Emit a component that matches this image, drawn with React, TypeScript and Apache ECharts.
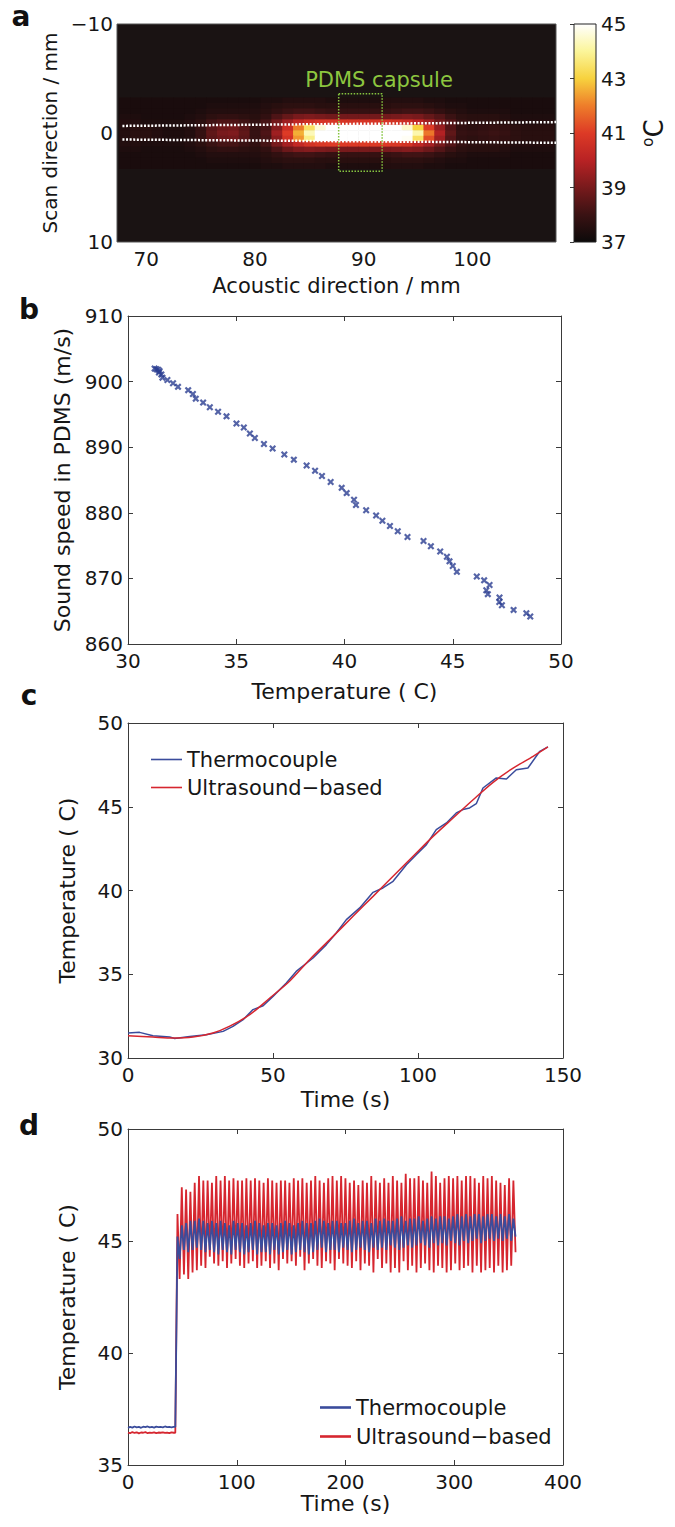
import React, { useEffect, useRef } from 'react';
import * as echarts from 'echarts';

const FONT = 'DejaVu Sans';
const INK = '#161616';
const AXIS = '#3a3a3a';
const BLUE = '#3a4c9c';
const RED = '#d6262f';
const GREEN = '#86c440';

// ---------- panel a : temperature map ----------
const aXTicks = [70, 80, 90, 100];
const heatX = [68, 69, 70, 71, 72, 73, 74, 75, 76, 77, 78, 79, 80, 81, 82, 83, 84, 85, 86, 87,
  88, 89, 90, 91, 92, 93, 94, 95, 96, 97, 98, 99, 100, 101, 102, 103, 104, 105, 106, 107];
const heatY = [-3, -2.5, -2, -1.5, -1, -0.5, 0, 0.5, 1, 1.5, 2, 2.5, 3];
const heatRowM30 = [37.3,37.3,37.3,37.3,37.3,37.3,37.3,37.3,37.3,37.3,37.3,37.3,37.3,37.4,37.4,37.5,37.5,37.5,37.5,37.4,37.4,37.4,37.4,37.4,37.5,37.5,37.5,37.5,37.4,37.4,37.3,37.3,37.3,37.3,37.3,37.3,37.3,37.3,37.3,37.3];
const heatRowM25 = [37.3,37.3,37.3,37.3,37.3,37.3,37.3,37.3,37.4,37.4,37.4,37.4,37.4,37.5,37.6,37.7,37.7,37.7,37.6,37.6,37.6,37.6,37.6,37.6,37.6,37.7,37.7,37.7,37.6,37.5,37.4,37.4,37.3,37.3,37.3,37.3,37.3,37.3,37.3,37.3];
const heatRowM20 = [37.3,37.3,37.3,37.3,37.3,37.3,37.3,37.4,37.5,37.5,37.5,37.5,37.5,37.6,37.8,38.0,38.1,38.1,38.0,37.9,37.9,37.9,37.9,37.9,37.9,38.0,38.1,38.1,38.0,37.8,37.6,37.5,37.4,37.4,37.4,37.4,37.3,37.3,37.3,37.3];
const heatRowM15 = [37.4,37.4,37.3,37.3,37.3,37.3,37.4,37.5,37.7,37.8,37.8,37.7,37.6,37.8,38.3,38.7,39.0,39.1,39.0,38.9,38.9,38.9,38.9,38.9,38.9,39.0,39.1,39.0,38.7,38.4,38.0,37.7,37.6,37.6,37.6,37.5,37.4,37.4,37.4,37.4];
const heatRowM10 = [37.5,37.5,37.4,37.4,37.4,37.4,37.5,37.7,38.1,38.3,38.3,38.1,37.8,38.2,38.9,39.6,40.2,40.6,40.8,40.8,40.8,40.8,40.8,40.8,40.8,40.7,40.5,40.1,39.6,38.9,38.4,37.9,37.7,37.7,37.7,37.6,37.5,37.5,37.5,37.5];
const heatRowM05 = [37.5,37.6,37.6,37.5,37.4,37.4,37.5,37.9,38.5,38.8,38.9,38.5,37.9,38.2,39.2,40.5,42.0,43.4,44.6,45.4,45.8,46.0,46.0,46.0,45.8,45.4,44.5,43.0,41.0,39.5,38.4,37.8,37.7,37.8,37.9,37.8,37.7,37.6,37.6,37.6];
const heatRow00 = [37.5,37.6,37.6,37.5,37.4,37.4,37.5,37.9,38.6,39.0,39.1,38.6,37.9,38.3,39.6,41.0,42.6,44.3,46.0,47.2,47.8,48.0,48.0,48.0,47.8,47.3,46.2,44.2,41.9,39.9,38.6,37.9,37.8,37.9,38.0,37.9,37.7,37.6,37.6,37.6];
const heatRowP05 = [37.5,37.6,37.6,37.5,37.4,37.4,37.5,37.9,38.5,38.8,38.9,38.5,37.9,38.2,39.3,40.7,42.3,43.8,45.0,45.8,46.2,46.4,46.4,46.4,46.2,45.8,44.9,43.4,41.3,39.6,38.4,37.8,37.7,37.8,37.9,37.8,37.7,37.6,37.6,37.6];
const heatRowP10 = [37.5,37.5,37.4,37.4,37.4,37.4,37.5,37.7,38.0,38.2,38.2,38.0,37.8,38.2,39.0,39.7,40.3,40.7,40.9,41.0,41.0,41.0,41.0,41.0,41.0,40.9,40.7,40.2,39.7,39.0,38.4,37.9,37.7,37.7,37.7,37.6,37.5,37.5,37.5,37.5];
const heatRowP15 = [37.4,37.4,37.3,37.3,37.3,37.3,37.4,37.5,37.7,37.8,37.8,37.7,37.6,37.8,38.3,38.8,39.1,39.2,39.1,39.0,39.0,39.0,39.0,39.0,39.0,39.1,39.2,39.1,38.8,38.4,38.0,37.7,37.6,37.6,37.6,37.5,37.4,37.4,37.4,37.4];
const heatRowP20 = [37.3,37.3,37.3,37.3,37.3,37.3,37.3,37.4,37.5,37.5,37.5,37.5,37.5,37.6,37.8,38.0,38.1,38.1,38.0,37.9,37.9,37.9,37.9,37.9,37.9,38.0,38.1,38.1,38.0,37.8,37.6,37.5,37.4,37.4,37.4,37.4,37.3,37.3,37.3,37.3];
const heatRowP25 = [37.3,37.3,37.3,37.3,37.3,37.3,37.3,37.3,37.4,37.4,37.4,37.4,37.4,37.5,37.6,37.7,37.7,37.7,37.6,37.6,37.6,37.6,37.6,37.6,37.6,37.7,37.7,37.7,37.6,37.5,37.4,37.4,37.3,37.3,37.3,37.3,37.3,37.3,37.3,37.3];
const heatRowP30 = [37.3,37.3,37.3,37.3,37.3,37.3,37.3,37.3,37.3,37.3,37.3,37.3,37.3,37.4,37.4,37.5,37.5,37.5,37.5,37.4,37.4,37.4,37.4,37.4,37.5,37.5,37.5,37.5,37.4,37.4,37.3,37.3,37.3,37.3,37.3,37.3,37.3,37.3,37.3,37.3];
const heatRows = [heatRowM30, heatRowM25, heatRowM20, heatRowM15, heatRowM10, heatRowM05, heatRow00,
  heatRowP05, heatRowP10, heatRowP15, heatRowP20, heatRowP25, heatRowP30];
const hotColors = ['#0c0a0a', '#3a1213', '#781a1c', '#b82224', '#dd3a26', '#ee7d2a', '#f7d23e', '#fbf59a', '#ffffff'];
const cbTicks = [37, 39, 41, 43, 45];
const aLineUpper = [[67.8, -0.65], [107.7, -1.0]];
const aLineLower = [[67.8, 0.6], [107.7, 0.9]];
const capsuleBox = [[87.7, -3.6], [91.7, -3.6], [91.7, 3.5], [87.7, 3.5], [87.7, -3.6]];

// ---------- panel b : sound speed vs temperature ----------
const bTemp = [31.23,31.31,31.39,31.46,31.43,31.54,31.59,31.82,32.08,32.31,32.78,33.0,33.13,33.47,33.78,34.16,34.55,35.01,35.35,35.63,35.86,36.28,36.68,37.22,37.66,38.25,38.64,38.96,39.36,39.87,40.10,40.44,40.53,41.0,41.46,41.75,42.1,42.46,42.91,43.65,43.99,44.42,44.73,44.85,45.0,45.19,46.11,46.45,46.70,46.55,46.62,47.16,47.15,47.27,47.81,48.4,48.58];
const bSpeed = [901.98,901.9,901.8,901.6,901.4,901.1,900.6,900.25,899.75,899.2,898.7,898.1,897.4,896.8,896.1,895.4,894.7,893.6,893.0,892.1,891.4,890.5,889.8,888.9,888.1,887.2,886.4,885.6,884.7,883.8,883.0,882.0,881.2,880.4,879.6,878.8,878.0,877.2,876.3,875.7,874.9,874.1,873.3,872.6,871.9,871.0,870.3,869.7,869.0,868.2,867.6,867.1,866.4,865.9,865.2,864.7,864.2];

// ---------- panel c : heating ramp ----------
const cBlueTime = [0,4,8.6,14.4,16.1,21.3,27,32.8,36.2,39.7,43.1,46.6,50,54.6,58,63.8,68.4,71.8,75.3,79.9,84.5,87.9,91.4,96,99.4,102.9,106.3,109.8,113.2,115.5,117.8,120.1,122.4,127,130.5,133.9,137.9,142,144.8];
const cBlueTemp = [31.49,31.53,31.33,31.25,31.17,31.29,31.39,31.59,31.89,32.29,32.89,33.12,33.68,34.48,35.17,35.97,36.77,37.46,38.26,38.96,39.89,40.15,40.55,41.54,42.14,42.74,43.63,44.03,44.63,44.83,44.93,45.18,46.12,46.72,46.66,47.21,47.31,48.31,48.57];
const cRedTime = [0,8.6,15.5,22.4,29.3,35.1,42,48.9,55.7,62.6,70.7,77.6,84.5,91.4,98.3,105.2,112.1,119,125.9,132.8,139.7,144.8];
const cRedTemp = [31.33,31.25,31.19,31.25,31.49,31.9,32.59,33.58,34.58,35.87,37.26,38.46,39.65,40.85,42.04,43.23,44.33,45.42,46.46,47.31,48.01,48.57];

// ---------- panel d : pulsed heating ----------
const dPreTime = [0,2,4,6,8,10,12,14,16,18,20,22,24,26,28,30,32,34,36,38,40,42];
const dBluePre = [36.66,36.7,36.67,36.72,36.68,36.7,36.66,36.71,36.69,36.72,36.68,36.7,36.67,36.71,36.69,36.7,36.68,36.72,36.69,36.7,36.68,36.7];
const dRedPre = [36.45,36.42,36.47,36.43,36.46,36.41,36.45,36.44,36.47,36.42,36.45,36.43,36.46,36.42,36.45,36.44,36.46,36.43,36.45,36.42,36.46,36.44];
const D_STEP_TIME = 43.5;
const D_OSC_START = 45.5;
const D_HALF_PERIOD = 1.98;
const dRedPeaks = [46.2,47.4,47.3,47.2,47.6,47.9,47.7,47.7,47.6,47.9,47.7,47.9,47.7,47.8,47.7,47.7,47.8,47.7,47.8,47.7,47.6,47.8,47.7,47.6,47.7,47.7,47.6,47.8,47.7,47.8,47.6,47.7,47.9,47.7,47.6,47.8,47.9,47.7,47.9,47.8,47.6,47.7,47.5,47.7,47.6,47.9,47.7,47.6,47.8,47.6,47.9,47.7,47.6,48.0,47.8,47.8,47.9,47.7,47.6,48.1,47.9,47.6,47.8,47.9,47.8,47.9,47.7,47.9,47.9,47.8,47.6,47.9,47.8,47.9,47.7,47.6,47.5,47.8,47.7];
const dRedTroughs = [43.3,43.5,43.3,43.6,43.7,43.9,43.8,44.3,44.0,43.9,44.1,43.8,44.0,44.2,43.9,43.8,44.0,44.1,43.8,43.9,44.1,43.8,44.0,43.7,44.2,44.0,44.1,43.9,44.3,43.7,44.0,44.2,43.9,43.8,44.1,44.0,43.7,44.2,44.0,43.9,43.8,44.1,43.7,44.0,43.9,43.6,44.2,43.8,44.0,43.6,43.8,43.6,44.1,43.7,43.9,43.6,43.8,44.0,43.7,43.6,43.9,43.8,43.6,43.7,44.0,43.7,43.8,43.9,43.6,43.9,43.6,43.7,43.8,43.6,43.9,43.6,43.7,43.9,44.5];
const dBluePeaks = [45.2,45.7,45.8,45.9,45.9,46.0,45.9,45.8,45.9,45.8,45.9,45.8,45.7,45.9,45.8,45.8,45.7,45.8,45.9,45.8,45.7,45.8,45.8,45.7,45.8,45.9,45.8,45.7,45.8,45.9,45.8,45.8,45.9,46.0,45.9,45.8,45.9,45.9,45.8,45.8,45.9,46.0,45.8,45.9,45.9,45.8,46.0,45.9,46.0,45.9,45.9,46.0,46.1,45.9,46.0,46.0,46.1,45.9,46.0,46.1,46.0,46.1,46.1,46.0,46.1,46.2,46.1,46.2,46.1,46.2,46.2,46.1,46.2,46.2,46.1,46.2,46.1,46.2,46.0];
const dBlueTroughs = [44.2,44.6,44.5,44.6,44.7,44.6,44.5,44.6,44.5,44.4,44.6,44.5,44.4,44.6,44.5,44.4,44.5,44.6,44.4,44.5,44.5,44.4,44.6,44.4,44.5,44.6,44.4,44.5,44.6,44.5,44.4,44.5,44.6,44.7,44.5,44.6,44.6,44.5,44.7,44.6,44.5,44.6,44.7,44.6,44.5,44.7,44.6,44.7,44.6,44.8,44.7,44.6,44.7,44.8,44.7,44.8,44.9,44.8,44.7,44.9,44.8,44.9,44.8,45.0,44.9,44.8,45.0,44.9,45.0,45.1,44.9,45.0,45.1,45.0,45.1,45.0,45.1,45.0,45.2];

const LEG_T = 'Thermocouple';
const LEG_U = 'Ultrasound\u2212based';

function buildD(pre: number[], peaks: number[], troughs: number[]) {
  const out: number[][] = dPreTime.map((t, i) => [t, pre[i]]);
  out.push([D_STEP_TIME, pre[pre.length - 1]]);
  const n = Math.min(peaks.length, troughs.length);
  for (let i = 0; i < n; i++) {
    out.push([D_OSC_START + 2 * i * D_HALF_PERIOD, peaks[i]]);
    out.push([D_OSC_START + (2 * i + 1) * D_HALF_PERIOD, troughs[i]]);
  }
  return out;
}

const heatData: number[][] = [];
heatY.forEach((y, r) => heatX.forEach((x, c) => heatData.push([x, y, heatRows[r][c]])));

const txt = (size: number) => ({ color: INK, fontFamily: FONT, fontSize: size });

function mainX(gridIndex: number, min: number, max: number, interval: number, name: string, nameGap: number) {
  return {
    gridIndex, type: 'value', min, max, interval, position: 'bottom',
    name, nameLocation: 'middle', nameGap, nameTextStyle: txt(22),
    axisLine: { show: true, onZero: false, lineStyle: { color: AXIS, width: 1 } },
    axisTick: { show: true, inside: true, length: 5, lineStyle: { color: AXIS } },
    axisLabel: { ...txt(20), margin: 7 },
    splitLine: { show: false },
  };
}
function mirrorX(gridIndex: number, min: number, max: number, interval: number) {
  return {
    gridIndex, type: 'value', min, max, interval, position: 'top',
    axisLine: { show: true, onZero: false, lineStyle: { color: AXIS, width: 1 } },
    axisTick: { show: true, inside: true, length: 5, lineStyle: { color: AXIS } },
    axisLabel: { show: false }, splitLine: { show: false },
  };
}
function mainY(gridIndex: number, min: number, max: number, interval: number, name: string, nameGap: number) {
  return {
    gridIndex, type: 'value', min, max, interval, position: 'left',
    name, nameLocation: 'middle', nameGap, nameTextStyle: txt(22),
    axisLine: { show: true, onZero: false, lineStyle: { color: AXIS, width: 1 } },
    axisTick: { show: true, inside: true, length: 5, lineStyle: { color: AXIS } },
    axisLabel: { ...txt(20), margin: 5 },
    splitLine: { show: false },
  };
}
function mirrorY(gridIndex: number, min: number, max: number, interval: number) {
  return {
    gridIndex, type: 'value', min, max, interval, position: 'right',
    axisLine: { show: true, onZero: false, lineStyle: { color: AXIS, width: 1 } },
    axisTick: { show: true, inside: true, length: 5, lineStyle: { color: AXIS } },
    axisLabel: { show: false }, splitLine: { show: false },
  };
}

function buildOption() {
  const n = hotColors.length - 1;
  const cbStops = hotColors.map((_, i) => ({ offset: i / n, color: hotColors[n - i] }));
  return {
    animation: false,
    backgroundColor: '#ffffff',
    grid: [
      { left: 117, top: 24, width: 439, height: 218, show: true, backgroundColor: '#1a1313', borderColor: '#555', borderWidth: 1 },
      { left: 574, top: 24, width: 22, height: 218 },
      { left: 128, top: 316, width: 433, height: 328 },
      { left: 128, top: 723, width: 435, height: 335 },
      { left: 128, top: 1129, width: 435, height: 336 },
    ],
    visualMap: [{
      show: false, type: 'continuous', seriesIndex: 0, dimension: 2, min: 37, max: 45,
      inRange: { color: hotColors },
    }],
    xAxis: [
      {
        gridIndex: 0, type: 'value', min: 67.3, max: 107.7, position: 'bottom',
        name: 'Acoustic direction / mm', nameLocation: 'middle', nameGap: 33, nameTextStyle: txt(21),
        axisLine: { show: false, onZero: false }, axisTick: { show: false },
        axisLabel: { ...txt(20), margin: 7, customValues: aXTicks }, splitLine: { show: false },
      },
      { gridIndex: 1, type: 'value', min: 0, max: 1, show: false },
      mainX(2, 30, 50, 5, 'Temperature ( C)', 36),
      mirrorX(2, 30, 50, 5),
      mainX(3, 0, 150, 50, 'Time (s)', 30),
      mirrorX(3, 0, 150, 50),
      mainX(4, 0, 400, 100, 'Time (s)', 27),
      mirrorX(4, 0, 400, 100),
    ],
    yAxis: [
      {
        gridIndex: 0, type: 'value', min: -10, max: 10, interval: 10, inverse: true, position: 'left',
        name: 'Scan direction / mm', nameLocation: 'middle', nameGap: 41, nameTextStyle: txt(20),
        axisLine: { show: false, onZero: false }, axisTick: { show: false },
        axisLabel: { ...txt(20), margin: 4, formatter: (v: number) => String(v).replace('-', '\u2212') },
        splitLine: { show: false },
      },
      {
        gridIndex: 1, type: 'value', min: 37, max: 45, position: 'right',
        name: '{o|o}{c|C}', nameLocation: 'middle', nameGap: 44,
        nameTextStyle: {
          color: INK, fontFamily: FONT,
          rich: {
            o: { fontSize: 15, fontFamily: FONT, color: INK, padding: [0, 0, 12, 0] },
            c: { fontSize: 26, fontFamily: FONT, color: INK },
          },
        },
        axisLine: { show: false },
        axisTick: { show: true, inside: true, length: 4, customValues: cbTicks, lineStyle: { color: AXIS } },
        axisLabel: { ...txt(20), margin: 5, customValues: cbTicks },
        splitLine: { show: false },
      },
      mainY(2, 860, 910, 10, 'Sound speed in PDMS (m/s)', 50),
      mirrorY(2, 860, 910, 10),
      mainY(3, 30, 50, 5, 'Temperature ( C)', 50),
      mirrorY(3, 30, 50, 5),
      mainY(4, 35, 50, 5, 'Temperature ( C)', 50),
      mirrorY(4, 35, 50, 5),
    ],
    legend: [
      {
        left: 146, top: 742, orient: 'vertical', selectedMode: false, icon: 'rect',
        data: [
          { name: LEG_T, itemStyle: { color: BLUE } },
          { name: LEG_U, itemStyle: { color: RED } },
        ],
        itemWidth: 31, itemHeight: 1.6, itemGap: 3,
        textStyle: { ...txt(21), lineHeight: 25 },
      },
      {
        left: 315, top: 1390, orient: 'vertical', selectedMode: false, icon: 'rect',
        data: [
          { name: LEG_T, itemStyle: { color: BLUE } },
          { name: LEG_U, itemStyle: { color: RED } },
        ],
        itemWidth: 31, itemHeight: 2.6, itemGap: 4,
        textStyle: { ...txt(21), lineHeight: 25 },
      },
    ],
    series: [
      {
        type: 'custom', name: 'map', xAxisIndex: 0, yAxisIndex: 0,
        dimensions: ['x', 'y', 'v'], encode: { x: 0, y: 1 },
        data: heatData, silent: true,
        renderItem: (params: any, api: any) => {
          const x = api.value(0);
          const y = api.value(1);
          const p1 = api.coord([x - 0.5, y - 0.25]);
          const p2 = api.coord([x + 0.5, y + 0.25]);
          return {
            type: 'rect',
            shape: {
              x: Math.min(p1[0], p2[0]), y: Math.min(p1[1], p2[1]),
              width: Math.abs(p2[0] - p1[0]) + 0.6, height: Math.abs(p2[1] - p1[1]) + 0.6,
            },
            style: { fill: api.visual('color') },
          };
        },
      },
      {
        type: 'line', xAxisIndex: 0, yAxisIndex: 0, data: aLineUpper, symbol: 'none', silent: true,
        lineStyle: { color: '#ffffff', width: 2.5, type: [2, 1.6] },
      },
      {
        type: 'line', xAxisIndex: 0, yAxisIndex: 0, data: aLineLower, symbol: 'none', silent: true,
        lineStyle: { color: '#ffffff', width: 2.5, type: [2, 1.6] },
      },
      {
        type: 'line', xAxisIndex: 0, yAxisIndex: 0, data: capsuleBox, symbol: 'none', silent: true,
        lineStyle: { color: GREEN, width: 1.5, type: [1.5, 1.5] },
      },
      {
        type: 'custom', name: 'colorbar', xAxisIndex: 1, yAxisIndex: 1, data: [[0, 37]], silent: true,
        encode: { x: 0, y: 1 },
        renderItem: (params: any, api: any) => {
          const p0 = api.coord([0, 45]);
          const p1 = api.coord([1, 37]);
          return {
            type: 'rect',
            shape: { x: p0[0], y: p0[1], width: p1[0] - p0[0], height: p1[1] - p0[1] },
            style: {
              fill: { type: 'linear', x: 0, y: 0, x2: 0, y2: 1, colorStops: cbStops },
              stroke: '#222', lineWidth: 1,
            },
          };
        },
      },
      {
        type: 'scatter', xAxisIndex: 2, yAxisIndex: 2,
        data: bTemp.map((t, i) => [t, bSpeed[i]]),
        symbol: 'path://M0,2.2L2.2,0L5,2.8L7.8,0L10,2.2L7.2,5L10,7.8L7.8,10L5,7.2L2.2,10L0,7.8L2.8,5Z',
        symbolSize: 7, itemStyle: { color: '#2b3d91' },
      },
      {
        type: 'line', name: LEG_T, xAxisIndex: 4, yAxisIndex: 4, symbol: 'none',
        data: cBlueTime.map((t, i) => [t, cBlueTemp[i]]),
        lineStyle: { color: BLUE, width: 1.5 }, itemStyle: { color: BLUE },
      },
      {
        type: 'line', name: LEG_U, xAxisIndex: 4, yAxisIndex: 4, symbol: 'none', smooth: 0.3,
        data: cRedTime.map((t, i) => [t, cRedTemp[i]]),
        lineStyle: { color: RED, width: 1.5 }, itemStyle: { color: RED },
      },
      {
        type: 'line', name: LEG_U, xAxisIndex: 6, yAxisIndex: 6, symbol: 'none',
        data: buildD(dRedPre, dRedPeaks, dRedTroughs),
        lineStyle: { color: RED, width: 1.8 }, itemStyle: { color: RED },
      },
      {
        type: 'line', name: LEG_T, xAxisIndex: 6, yAxisIndex: 6, symbol: 'none',
        data: buildD(dBluePre, dBluePeaks, dBlueTroughs),
        lineStyle: { color: BLUE, width: 1.8 }, itemStyle: { color: BLUE },
      },
    ],
    graphic: [
      { type: 'text', x: 21, y: 30, style: { text: 'a', fontFamily: FONT, fontSize: 28, fontWeight: 'bold', fill: '#111', align: 'center', verticalAlign: 'bottom' } },
      { type: 'text', x: 29, y: 323, style: { text: 'b', fontFamily: FONT, fontSize: 28, fontWeight: 'bold', fill: '#111', align: 'center', verticalAlign: 'bottom' } },
      { type: 'text', x: 29, y: 709, style: { text: 'c', fontFamily: FONT, fontSize: 28, fontWeight: 'bold', fill: '#111', align: 'center', verticalAlign: 'bottom' } },
      { type: 'text', x: 29, y: 1139, style: { text: 'd', fontFamily: FONT, fontSize: 28, fontWeight: 'bold', fill: '#111', align: 'center', verticalAlign: 'bottom' } },
      { type: 'text', x: 379, y: 80, style: { text: 'PDMS capsule', fontFamily: FONT, fontSize: 21, fill: '#8dc63f', align: 'center', verticalAlign: 'middle' } },
    ],
  };
}

export default function App() {
  const ref = useRef<HTMLDivElement>(null);
  useEffect(() => {
    if (!ref.current) return;
    const chart = echarts.init(ref.current, null, { renderer: 'svg' });
    chart.setOption(buildOption() as any);
    return () => chart.dispose();
  }, []);
  return (
    <div
      ref={ref}
      style={{ position: 'absolute', left: 0, top: 0, width: 675, height: 1527, background: '#ffffff' }}
    />
  );
}
